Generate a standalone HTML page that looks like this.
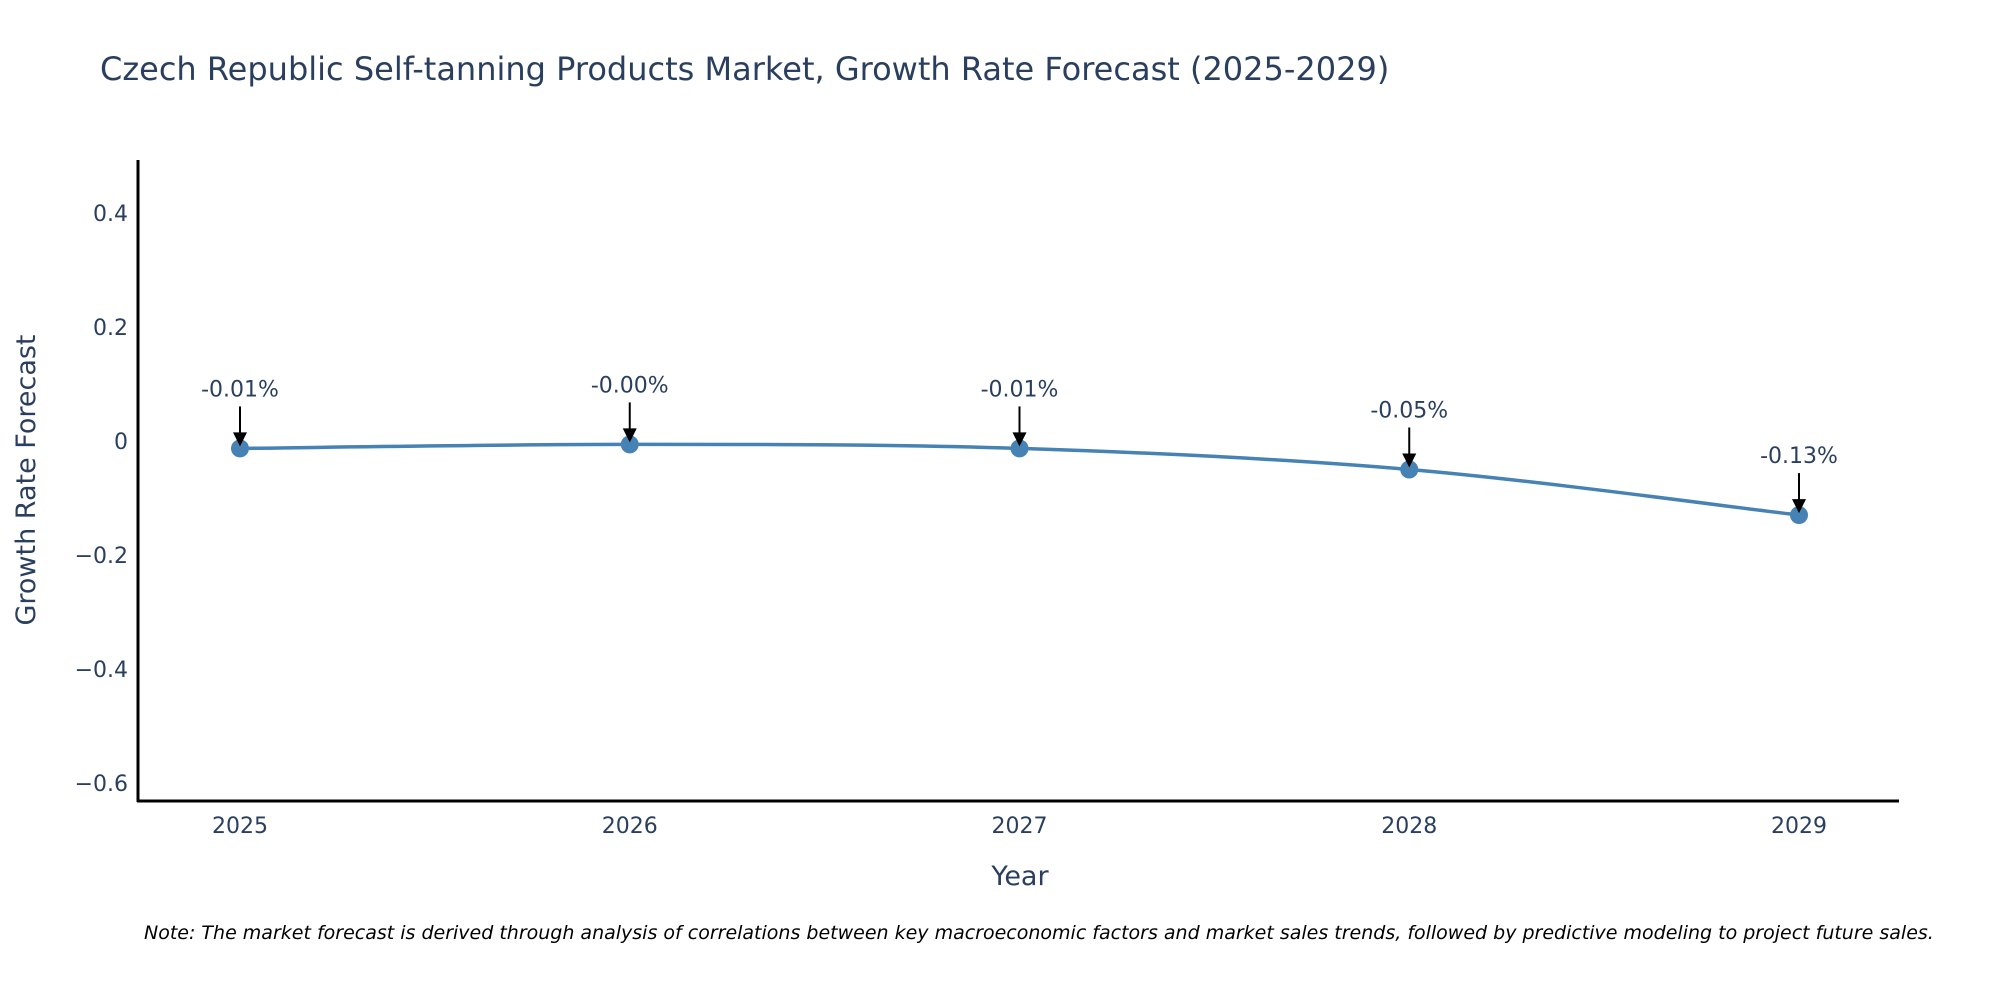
<!DOCTYPE html>
<html><head><meta charset="utf-8"><style>
html,body{margin:0;padding:0;background:#fff;}
svg{display:block;font-family:"DejaVu Sans","Liberation Sans",sans-serif;}
</style></head><body>
<svg id="chart" width="2000" height="1000" viewBox="0 0 2000 1000">
<rect width="2000" height="1000" fill="#fff"/>
<text x="100" y="80" font-size="32" fill="#2a3f5f">Czech Republic Self-tanning Products Market, Growth Rate Forecast (2025-2029)</text>
<g id="yticks"></g>
<g id="xticks"></g>
<g id="series"></g>
<g id="annots"></g>
<line x1="138" y1="160" x2="138" y2="802" stroke="#000" stroke-width="3"/>
<line x1="137" y1="801" x2="1899" y2="801" stroke="#000" stroke-width="3"/>
<text transform="translate(35,480) rotate(-90)" text-anchor="middle" font-size="27" fill="#2a3f5f">Growth Rate Forecast</text>
<text x="1020" y="885" text-anchor="middle" font-size="27" fill="#2a3f5f">Year</text>
<text x="144" y="939" font-size="19" font-style="italic" fill="#000">Note: The market forecast is derived through analysis of correlations between key macroeconomic factors and market sales trends, followed by predictive modeling to project future sales.</text>
</svg>
<script>
const years = [2025, 2026, 2027, 2028, 2029];
const values = [-0.013, -0.006, -0.013, -0.05, -0.13];
const labels = ["-0.01%", "-0.00%", "-0.01%", "-0.05%", "-0.13%"];
const yTickValues = [0.4, 0.2, 0, -0.2, -0.4, -0.6];
const yTickLabels = ["0.4", "0.2", "0", "\u22120.2", "\u22120.4", "\u22120.6"];

const NS = "http://www.w3.org/2000/svg";
function xScale(v){ return 240 + (v - 2025) * 389.75; }
function yScale(v){ return 441 - v * 570; }
function mk(tag, attrs, parent){ const e = document.createElementNS(NS, tag); for (const k in attrs) e.setAttribute(k, attrs[k]); parent.appendChild(e); return e; }

const yt = document.getElementById('yticks');
yTickValues.forEach((v, i) => {
  const t = mk('text', {x: 128, y: yScale(v) + 8, 'text-anchor': 'end', 'font-size': 22, fill: '#2a3f5f'}, yt);
  
  
  t.textContent = yTickLabels[i];
});
const xt = document.getElementById('xticks');
years.forEach(y => {
  const t = mk('text', {x: xScale(y), y: 833, 'text-anchor': 'middle', 'font-size': 22, fill: '#2a3f5f'}, xt);
  
  
  t.textContent = String(y);
});

const pts = years.map((y, i) => [xScale(y), yScale(values[i])]);
let d = 'M' + pts[0][0] + ',' + pts[0][1];
for (let i = 0; i < pts.length - 1; i++) {
  const p0 = pts[Math.max(0, i - 1)], p1 = pts[i], p2 = pts[i + 1], p3 = pts[Math.min(pts.length - 1, i + 2)];
  const c1 = [p1[0] + (p2[0] - p0[0]) / 6, p1[1] + (p2[1] - p0[1]) / 6];
  const c2 = [p2[0] - (p3[0] - p1[0]) / 6, p2[1] - (p3[1] - p1[1]) / 6];
  d += ' C' + c1 + ' ' + c2 + ' ' + p2;
}
const s = document.getElementById('series');
const line = mk('path', {d: d, fill: 'none', stroke: '#4682b4', 'stroke-width': 3.5}, s);


pts.forEach(p => {
  const c = mk('circle', {cx: p[0], cy: p[1], r: 9, fill: '#4682b4'}, s);
  
  
});

const a = document.getElementById('annots');
pts.forEach((p, i) => {
  const top = p[1] - 42;
  const l = mk('line', {x1: p[0], y1: top, x2: p[0], y2: p[1] - 14, stroke: '#000', 'stroke-width': 2}, a);
  
  
  const h = mk('polygon', {points: (p[0]-7)+','+(p[1]-16)+' '+(p[0]+7)+','+(p[1]-16)+' '+p[0]+','+(p[1]-2), fill: '#000'}, a);
  
  
  const t = mk('text', {x: p[0], y: top - 10, 'text-anchor': 'middle', 'font-size': 22, fill: '#2a3f5f'}, a);
  
  
  t.textContent = labels[i];
});
</script>
</body></html>
